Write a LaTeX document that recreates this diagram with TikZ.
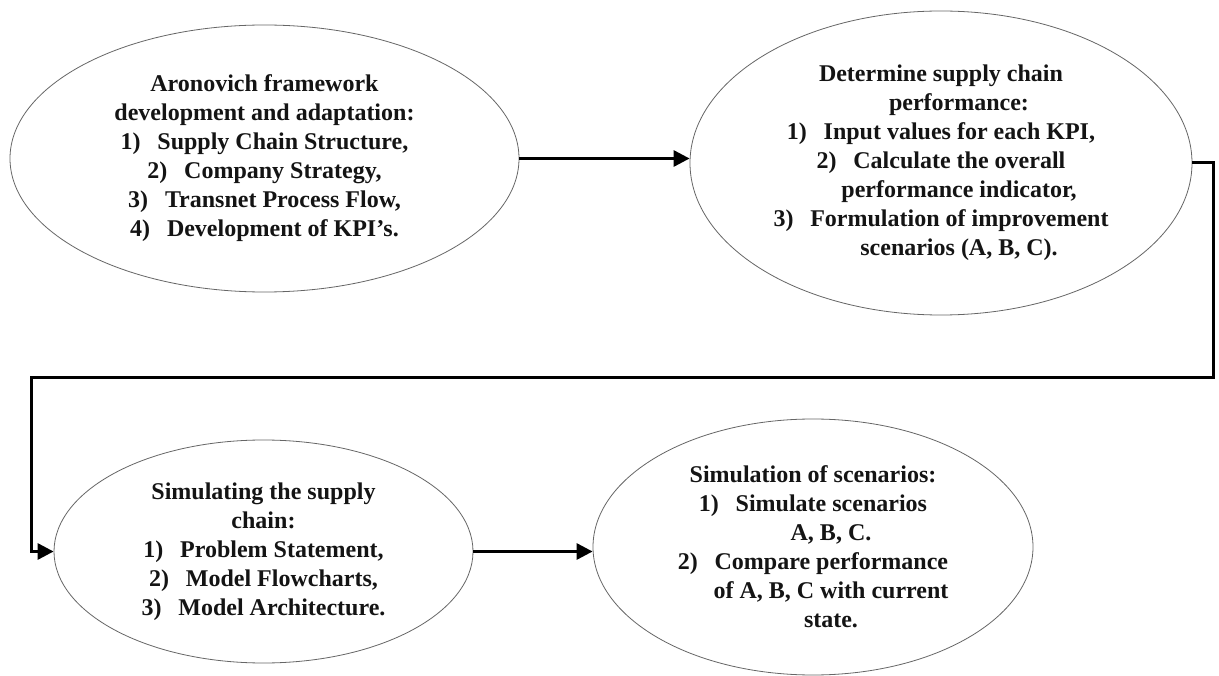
\documentclass[tikz,border=0pt]{standalone}
\usepackage{fontspec}
\setmainfont{Liberation Serif}
\usetikzlibrary{shapes.geometric,arrows.meta}
\tikzset{
  stage/.style={ellipse, draw=black!60, line width=0.8pt, inner sep=0pt,
    align=center, text=black!92, font=\bfseries\fontsize{24}{29}\selectfont},
  flow/.style={line width=3pt, -{Triangle[length=16pt,width=16pt]}},
}
\newcommand{\itm}[1]{#1)\hspace{0.7em}}
\begin{document}
\begin{tikzpicture}[x=1pt,y=-1pt]
\useasboundingbox[fill=white] (0,0) rectangle (1219,676);
\node[stage, minimum width=509pt, minimum height=267pt] (e1) at (264.5,158.5)
  {Aronovich framework\\development and adaptation:\\
   \itm{1}Supply Chain Structure,\\\itm{2}Company Strategy,\\
   \itm{3}Transnet Process Flow,\\\itm{4}Development of KPI's.};
\node[stage, minimum width=502pt, minimum height=304pt] (e2) at (941,163)
  {Determine supply chain\\\hspace*{36pt}performance:\\
   \itm{1}Input values for each KPI,\\\itm{2}Calculate the overall\\
   \hspace*{36pt}performance indicator,\\\itm{3}Formulation of improvement\\
   \hspace*{36pt}scenarios (A, B, C).};
\node[stage, minimum width=419pt, minimum height=223pt] (e3) at (263.5,551.5)
  {Simulating the supply\\chain:\\\itm{1}Problem Statement,\\
   \itm{2}Model Flowcharts,\\\itm{3}Model Architecture.};
\node[stage, minimum width=440pt, minimum height=256pt] (e4) at (813,547)
  {Simulation of scenarios:\\\itm{1}Simulate scenarios\\\hspace*{36pt}A, B, C.\\
   \itm{2}Compare performance\\\hspace*{36pt}of A, B, C with current\\
   \hspace*{36pt}state.};
\coordinate (r) at (1213,378);
\coordinate (l) at (31,378);
\draw[flow] (e1.east) -- (e1.east -| e2.west);
\draw[flow] (e2.east) -| (r) -- (l) |- (e3.west);
\draw[flow] (e3.east) -- (e3.east -| e4.west);
\end{tikzpicture}
\end{document}
